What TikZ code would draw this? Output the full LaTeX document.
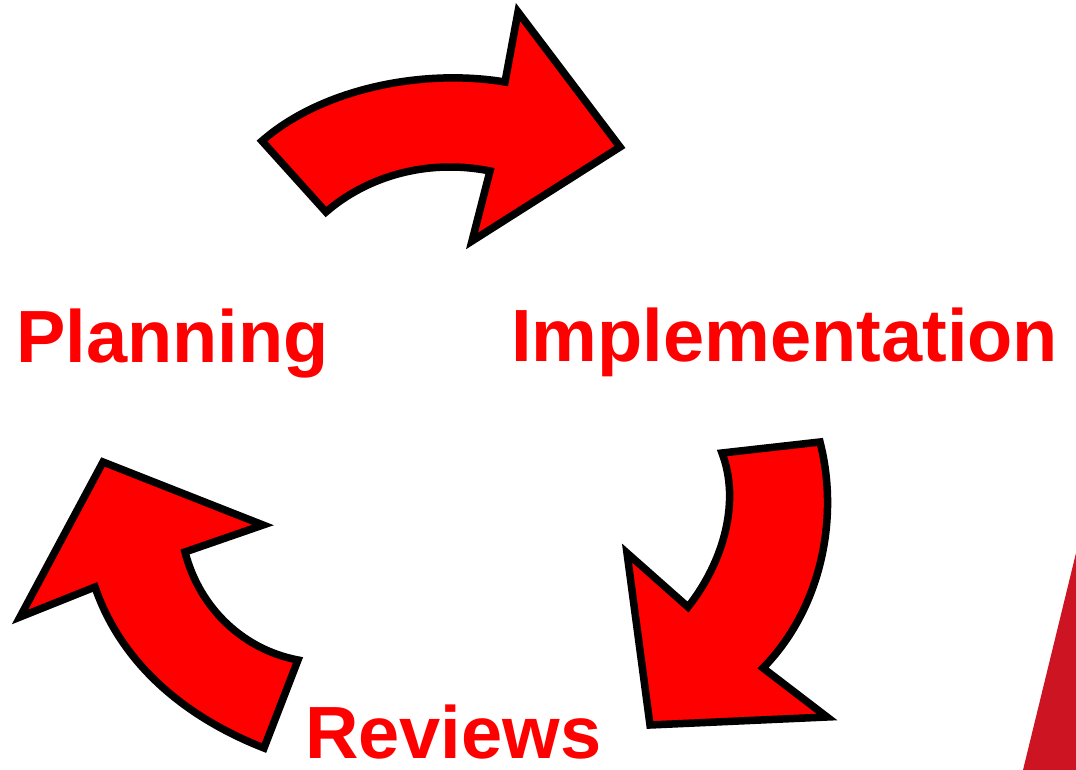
\documentclass[tikz,border=0pt]{standalone}
\usepackage{fontspec}
\setmainfont{Liberation Sans}
\usepackage{tikz}
\definecolor{cyclered}{RGB}{255,0,0}
\definecolor{edgered}{RGB}{205,20,35}

\tikzset{
  bigarrow/.style={fill=cyclered, draw=black, line width=7.5pt, line join=miter},
  phase/.style={text=cyclered, font=\fontsize{74}{80}\selectfont\bfseries, inner sep=0pt, anchor=base west}
}

\begin{document}
\begin{tikzpicture}[x=1pt, y=-1pt]
  \useasboundingbox (0,0) rectangle (1076,770);

  % labels
  \node (plan) [phase] at (16,362) {Planning};
  \node (impl) [phase] at (511,361) {Implementation};
  \node (rev) [phase] at (305,758) {Reviews};

  % planning -> implementation
  \filldraw[bigarrow] (262,141) -- (326,212)
    .. controls (365,178) and (425,158) .. (490,171)
    -- (472,241) -- (620,147) -- (518,12) -- (505,82)
    .. controls (420,68) and (320,90) .. (262,141)
    -- cycle;

  % implementation -> reviews
  \filldraw[bigarrow] (722,453) -- (820,442)
    .. controls (840,520) and (820,610) .. (763,668)
    -- (827,717) -- (650,725) -- (627,553) -- (688,607)
    .. controls (725,560) and (740,500) .. (722,453)
    -- cycle;

  % reviews -> planning
  \filldraw[bigarrow] (103,462) -- (263,525) -- (185,552)
    .. controls (200,610) and (245,650) .. (298,660)
    -- (264,748)
    .. controls (180,715) and (120,660) .. (95,587)
    -- (20,617) -- cycle;

  % edge of a shape cut off at the right
  \fill[edgered] (1076,553) -- (1023,770) -- (1076,770) -- cycle;
\end{tikzpicture}
\end{document}
